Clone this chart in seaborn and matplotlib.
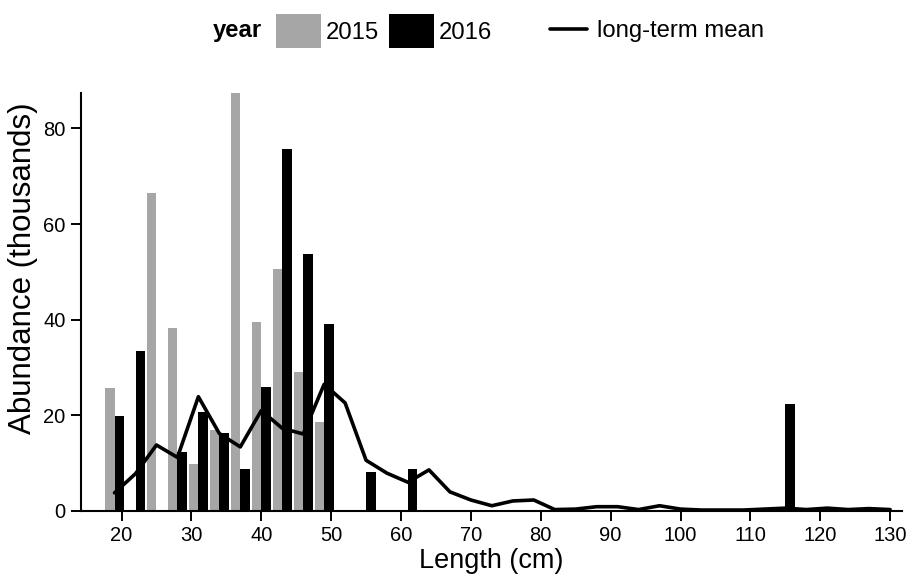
import matplotlib
matplotlib.use("Agg")
import matplotlib.pyplot as plt
import seaborn as sns
import pandas as pd
from matplotlib.patches import Patch
from matplotlib.lines import Line2D

# ---- data ----
lengths = [19, 22, 25, 28, 31, 34, 37, 40, 43, 46, 49, 55, 61, 115]
abund_2015 = [25.7, 0, 66.5, 38.3, 9.8, 17.0, 87.4, 39.6, 50.7, 29.1, 18.6, 0, 0, 0]
abund_2016 = [19.9, 33.4, 0, 12.4, 20.6, 16.4, 8.8, 25.9, 75.6, 53.7, 39.0, 8.2, 8.8, 22.3]

mean_len = [19, 22, 25, 28, 31, 34, 37, 40, 43, 46, 49, 52, 55, 58, 61, 64, 67, 70,
            73, 76, 79, 82, 85, 88, 91, 94, 97, 100, 103, 106, 109, 112, 115, 118,
            121, 124, 127, 130]
mean_abund = [3.8, 7.8, 13.8, 11.2, 23.9, 16.2, 13.4, 21.0, 17.3, 16.1, 26.5, 22.6,
              10.6, 7.9, 6.0, 8.6, 4.0, 2.3, 1.1, 2.1, 2.3, 0.3, 0.4, 0.9, 0.9, 0.3,
              1.1, 0.4, 0.2, 0.2, 0.2, 0.4, 0.6, 0.3, 0.6, 0.3, 0.5, 0.3]

years = ["2015", "2016"]
x_ticks = [20, 30, 40, 50, 60, 70, 80, 90, 100, 110, 120, 130]
y_ticks = [0, 20, 40, 60, 80]

colors = {"2015": "#a6a6a6", "2016": "#000000"}

bars = pd.DataFrame({
    "length": lengths * 2,
    "abundance": abund_2015 + abund_2016,
    "year": ["2015"] * len(lengths) + ["2016"] * len(lengths),
})
mean_df = pd.DataFrame({"length": mean_len, "abundance": mean_abund})

sns.set_style("white")
plt.rcParams["font.family"] = ["Liberation Sans", "DejaVu Sans"]
plt.rcParams["text.color"] = "black"
plt.rcParams["axes.labelcolor"] = "black"
plt.rcParams["xtick.color"] = "black"
plt.rcParams["ytick.color"] = "black"

fig = plt.figure(figsize=(9.08, 5.83), dpi=100)
ax = fig.add_axes([81 / 908, 1 - 511 / 583, (902 - 81) / 908, (511 - 93) / 583])

sns.barplot(data=bars, x="length", y="abundance", hue="year", hue_order=years,
            palette=colors, native_scale=True, width=0.9, dodge=True,
            saturation=1, linewidth=0, ax=ax, legend=False, zorder=2)
sns.lineplot(data=mean_df, x="length", y="abundance", color="black", lw=2.6,
             ax=ax, zorder=3)

ax.set_xlim(14.2, 131.7)
ax.set_ylim(0, 87.4)
ax.set_xticks(x_ticks)
ax.set_xticklabels([str(t) for t in x_ticks])
ax.set_yticks(y_ticks)
ax.set_yticklabels([str(t) for t in y_ticks])
ax.set_xlabel("Length (cm)", fontsize=19.5, labelpad=2)
ax.set_ylabel("Abundance (thousands)", fontsize=22.5)
ax.yaxis.set_label_coords(-0.052, 0.58)
ax.tick_params(axis="both", which="major", labelsize=14.5, length=7, width=1.4,
               direction="out", color="black", labelcolor="black", pad=4,
               bottom=True, left=True)

for s in ["top", "right"]:
    ax.spines[s].set_visible(False)
for s in ["left", "bottom"]:
    ax.spines[s].set_color("black")
    ax.spines[s].set_linewidth(1.5)
ax.grid(False)

# ---- legend ----
fs_leg = 17.2
fig.text(213 / 908, 1 - 31 / 583, "year", fontsize=fs_leg, fontweight="bold",
         va="center", ha="left", color="black")
h_year = [Patch(facecolor=colors[y], edgecolor="none", label=y) for y in years]
leg1 = fig.legend(handles=h_year, loc="center left",
                  bbox_to_anchor=(276 / 908, 1 - 31 / 583), ncol=2, frameon=False,
                  fontsize=fs_leg, handlelength=1.89, handleheight=1.84,
                  handletextpad=0.2, columnspacing=0.42, borderpad=0,
                  borderaxespad=0, labelcolor="black")
h_line = [Line2D([0], [0], color="black", lw=2.6, label="long-term mean")]
leg2 = fig.legend(handles=h_line, loc="center left",
                  bbox_to_anchor=(550 / 908, 1 - 31 / 583), frameon=False,
                  fontsize=fs_leg, handlelength=1.55, handletextpad=0.42,
                  borderpad=0, borderaxespad=0, labelcolor="black")

fig.savefig("out.png", dpi=100)
